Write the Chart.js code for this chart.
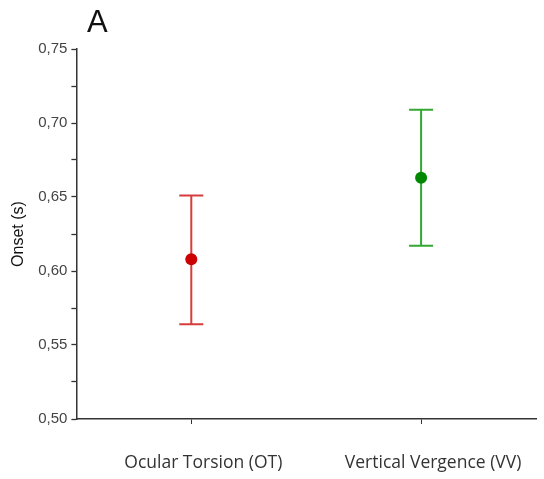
<!DOCTYPE html>
<html>
<head>
<meta charset="utf-8">
<script src="https://cdn.jsdelivr.net/npm/chart.js@4"></script>
<style>
  html, body { margin: 0; padding: 0; background: #fff; }
  #wrap { width: 544px; height: 479px; position: relative; }
</style>
</head>
<body>
<div id="wrap"><canvas id="onsetChart"></canvas></div>
<script>
// values
var categories = ['Ocular Torsion (OT)', 'Vertical Vergence (VV)'];
var onsetMean = [0.608, 0.663];
var onsetLow = [0.564, 0.617];
var onsetHigh = [0.651, 0.709];
var pointColors = ['#cc0000', '#008800'];
var barColors = ['#d63c3c', '#33a833'];
var yTicks = [0.50, 0.55, 0.60, 0.65, 0.70, 0.75];

// draws the whiskers + caps behind the points
var errorBars = {
  id: 'errorBars',
  beforeDatasetsDraw: function (chart) {
    var ctx = chart.ctx;
    var x = chart.scales.x, y = chart.scales.y;
    ctx.save();
    ctx.lineWidth = 2;
    for (var i = 0; i < categories.length; i++) {
      var px = x.getPixelForValue(i);
      var top = y.getPixelForValue(onsetHigh[i]);
      var bot = y.getPixelForValue(onsetLow[i]);
      ctx.strokeStyle = barColors[i];
      ctx.beginPath();
      ctx.moveTo(px, top); ctx.lineTo(px, bot);
      ctx.moveTo(px - 12, top); ctx.lineTo(px + 12, top);
      ctx.moveTo(px - 12, bot); ctx.lineTo(px + 12, bot);
      ctx.stroke();
    }
    ctx.restore();
  }
};

// panel letter
var panelLetter = {
  id: 'panelLetter',
  afterDraw: function (chart) {
    var ctx = chart.ctx;
    ctx.save();
    ctx.fillStyle = '#111';
    ctx.font = '31px "Liberation Sans", Arial, sans-serif';
    ctx.textBaseline = 'alphabetic';
    ctx.fillText('A', 87, 32);
    ctx.restore();
  }
};

new Chart(document.getElementById('onsetChart'), {
  type: 'line',
  data: {
    labels: categories,
    datasets: [{
      data: onsetMean,
      showLine: false,
      pointRadius: 6,
      pointHoverRadius: 6,
      pointBackgroundColor: pointColors,
      pointBorderColor: pointColors,
      pointBorderWidth: 0
    }]
  },
  options: {
    responsive: true,
    maintainAspectRatio: false,
    animation: false,
    // the x tick padding is counted twice in the axis height, so pull the bottom back in
    layout: { padding: { top: 49, right: 8, left: 5, bottom: -24 } },
    plugins: {
      legend: { display: false },
      tooltip: { enabled: false }
    },
    scales: {
      x: {
        type: 'category',
        offset: true,
        border: { color: '#333', width: 1.5 },
        grid: {
          offset: false,
          drawOnChartArea: false,
          tickLength: 5,
          color: '#333'
        },
        ticks: {
          padding: 29,
          labelOffset: 12,
          color: '#333',
          font: { family: '"Open Sans"', size: 17.5 },
          maxRotation: 0
        }
      },
      y: {
        min: 0.5,
        max: 0.75,
        border: { color: '#333', width: 1.5 },
        afterBuildTicks: function (scale) {
          var t = [];
          for (var i = 0; i < yTicks.length; i++) {
            t.push({ value: yTicks[i] });
            if (i < yTicks.length - 1) t.push({ value: (yTicks[i] + yTicks[i + 1]) / 2, minor: true });
          }
          scale.ticks = t;
        },
        grid: {
          drawOnChartArea: false,
          tickLength: 5,
          color: '#333',
          tickWidth: 1.3
        },
        ticks: {
          padding: 4,
          color: '#444',
          font: { family: '"Liberation Sans"', size: 15 },
          callback: function (v) {
            var r = Math.round(v * 1000) / 1000;
            if (Math.round(r * 1000) % 50 !== 0) return '';
            return r.toFixed(2).replace('.', ',');
          }
        },
        title: {
          display: true,
          text: 'Onset (s)',
          color: '#111',
          font: { family: '"Liberation Sans"', size: 16 },
          padding: { bottom: 6 }
        }
      }
    }
  },
  plugins: [errorBars, panelLetter]
});
</script>
</body>
</html>
